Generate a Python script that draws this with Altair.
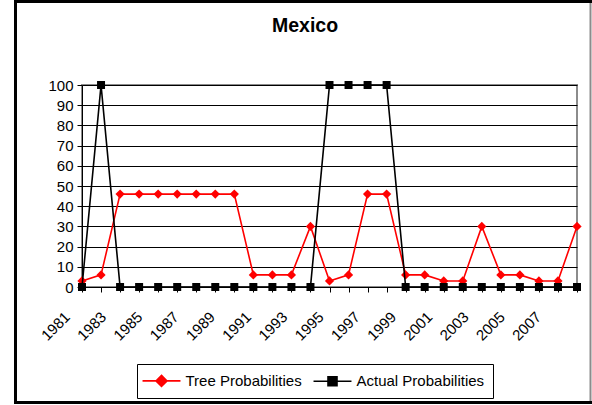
import altair as alt
import pandas as pd

# Yearly probabilities for Mexico (percent)
years = list(range(1981, 2008))
tree_prob = [3, 6, 46, 46, 46, 46, 46, 46, 46, 6, 6, 6, 30, 3, 6, 46, 46,
             6, 6, 3, 3, 30, 6, 6, 3, 3, 30]
actual_prob = [0, 100, 0, 0, 0, 0, 0, 0, 0, 0, 0, 0, 0, 100, 100, 100, 100,
               0, 0, 0, 0, 0, 0, 0, 0, 0, 0]
series_names = ["Tree Probabilities", "Actual Probabilities"]
series_colors = ["#ff0000", "#000000"]
y_ticks = list(range(0, 101, 10))
chart_title = "Mexico"

df = pd.DataFrame({
    "year": years * 2,
    "series": [series_names[0]] * len(years) + [series_names[1]] * len(years),
    "value": tree_prob + actual_prob,
})

FONT = "Liberation Sans"
W, H = 495, 202

# Legend symbols: a short line with the series marker in the middle
# (unit = half of the 15px symbol box, so the line runs ~19px each way)
diamond_sym = "M-2.53,0L2.53,0M0,-0.73L0.73,0L0,0.73L-0.73,0Z"
square_sym = "M-2.53,0L2.53,0M-0.6,-0.6L0.6,-0.6L0.6,0.6L-0.6,0.6Z"

x_enc = alt.X(
    "year:O",
    scale=alt.Scale(type="point", padding=0),
    axis=alt.Axis(
        title=None, grid=False, labelAngle=-45, labelAlign="right",
        labelBaseline="top", labelOverlap=False, labelPadding=17,
        # rotated year labels sit slightly tighter than the ticks
        labelOffset=alt.ExprRef("-20 - (datum.value - 1981) * 0.92"),
        labelExpr="datum.value % 2 == 1 ? datum.label : ''",
    ),
)
y_enc = alt.Y(
    "value:Q",
    scale=alt.Scale(domain=[0, 100], nice=False),
    axis=alt.Axis(title=None, values=y_ticks, grid=True, gridColor="black",
                  gridWidth=1, gridOpacity=1, labelPadding=4),
)

base = alt.Chart(df).encode(x=x_enc, y=y_enc)

tree = base.transform_filter(alt.datum.series == series_names[0])
actual = base.transform_filter(alt.datum.series == series_names[1])

tree_line = tree.mark_line(color=series_colors[0], strokeWidth=1.6)
tree_pts = tree.mark_point(shape="diamond", filled=True, color=series_colors[0],
                           size=85, opacity=1)
actual_line = actual.mark_line(color=series_colors[1], strokeWidth=1.6)
actual_pts = actual.mark_point(shape="square", filled=True, color=series_colors[1],
                               size=64, opacity=1)

leg = dict(title=None, orient="none", legendX=55, legendY=279, direction="horizontal")
legend_layer = base.transform_filter("false").mark_point(
    filled=True, opacity=1, strokeWidth=1.6
).encode(
    fill=alt.Fill("series:N", scale=alt.Scale(domain=series_names, range=series_colors),
                  legend=alt.Legend(**leg)),
    stroke=alt.Stroke("series:N", scale=alt.Scale(domain=series_names, range=series_colors),
                      legend=alt.Legend(**leg)),
    shape=alt.Shape("series:N", scale=alt.Scale(domain=series_names, range=[diamond_sym, square_sym]),
                    legend=alt.Legend(**leg)),
)

one = alt.Data(values=[{"t": chart_title}])
title_mark = alt.Chart(one).mark_text(
    font=FONT, fontSize=19.5, fontWeight="bold", align="center",
    baseline="alphabetic", color="black"
).encode(text="t:N", x=alt.value(223), y=alt.value(-53))

# Outer frame around the whole chart
frame_left = alt.Chart(one).mark_rule(color="black", strokeWidth=3).encode(
    x=alt.value(-66.5), y=alt.value(-85), y2=alt.value(319))
frame_top = alt.Chart(one).mark_rule(color="black", strokeWidth=3).encode(
    x=alt.value(-68), x2=alt.value(510), y=alt.value(-83.5))
frame_bottom = alt.Chart(one).mark_rule(color="black", strokeWidth=3).encode(
    x=alt.value(-68), x2=alt.value(510), y=alt.value(317.5))
frame_right = alt.Chart(one).mark_rule(color="#8c8c8c", strokeWidth=2).encode(
    x=alt.value(508.5), y=alt.value(-82), y2=alt.value(316))

chart = alt.layer(
    tree_line, tree_pts, actual_line, actual_pts, legend_layer,
    title_mark, frame_left, frame_top, frame_bottom, frame_right,
).properties(
    width=W, height=H, autosize="none",
    padding={"left": 82, "top": 85, "right": 15, "bottom": 118},
    background="white",
).configure_view(
    stroke="#8c8c8c", strokeWidth=2
).configure_axis(
    labelFont=FONT, labelFontSize=15, labelColor="black",
    domainColor="black", domainWidth=1, tickColor="black", tickSize=5, tickWidth=1,
).configure_legend(
    labelFont=FONT, labelFontSize=15, labelColor="black",
    symbolSize=225, symbolStrokeWidth=1.6, symbolOpacity=1,
    symbolOffset=8, strokeColor="black", fillColor="white", padding=8,
    labelOffset=15.5, columnPadding=8,
)

chart.save("out.html", embed_options={"renderer": "svg", "actions": False})
